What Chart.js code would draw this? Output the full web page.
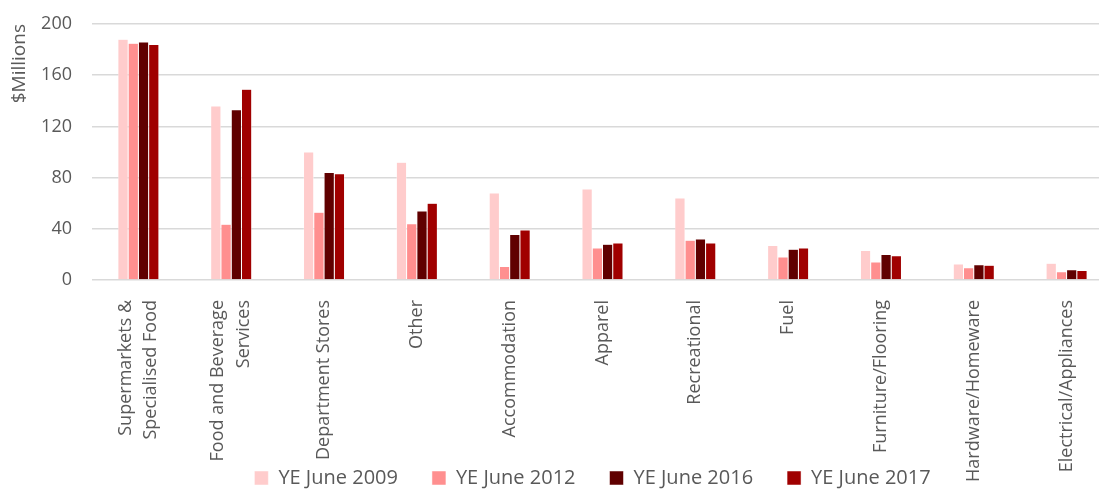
<!DOCTYPE html>
<html lang="en">
<head>
    <meta charset="UTF-8">
    <title>Retail spend by category</title>
    <script src="https://cdn.jsdelivr.net/npm/chart.js"></script>
    <style>
        html, body {
            margin: 0;
            padding: 0;
            overflow: hidden;
            background: #ffffff;
        }

        /* plot runs a little past the right edge of the window */
        .chart-box {
            width: 1113px;
            height: 490px;
        }
    </style>
</head>
<body>

    <div class="chart-box">
        <canvas id="spendChart"></canvas>
    </div>

    <script>
        // Categories (two-line labels as arrays)
        const categories = [
            ['Supermarkets &', 'Specialised Food'],
            ['Food and Beverage', 'Services'],
            'Department Stores',
            'Other',
            'Accommodation',
            'Apparel',
            'Recreational',
            'Fuel',
            'Furniture/Flooring',
            'Hardware/Homeware',
            'Electrical/Appliances'
        ];

        // $ millions, years ending June
        const ye2009 = [188, 136, 100, 92, 68, 71, 64, 27, 23, 12.5, 13];
        const ye2012 = [185, 43.5, 53, 44, 10.5, 25, 31, 18, 14, 9.5, 6.5];
        const ye2016 = [186, 133, 84, 54, 35.5, 28, 32, 24, 20, 12, 8];
        const ye2017 = [184, 149, 83, 60, 39, 29, 29, 25, 19, 11.5, 7.5];

        const yTicks = [0, 40, 80, 120, 160, 200];

        const textColor = '#595959';
        const fontFamily = "'Open Sans', sans-serif";

        // Category axis: multi-line labels centred on their tick, and long
        // labels allowed to run down beside the legend instead of being clipped
        class CentredCategoryScale extends Chart.CategoryScale {
            _computeLabelArea() {
                return undefined;
            }

            _computeLabelItems(chartArea) {
                const items = super._computeLabelItems(chartArea);
                items.forEach(item => {
                    if (Array.isArray(item.label)) {
                        item.textOffset -= (item.label.length - 1) * item.font.lineHeight / 2;
                    }
                });
                return items;
            }
        }
        CentredCategoryScale.id = 'centredCategory';
        CentredCategoryScale.defaults = Chart.CategoryScale.defaults;
        Chart.register(CentredCategoryScale);

        // Legend sits centred on the full chart width, which is wider than the canvas
        const legendShift = {
            id: 'legendShift',
            afterLayout(chart) {
                chart.legend.left += 36;
                chart.legend.right += 36;
            }
        };

        const makeSet = (label, data, color) => ({
            label: label,
            data: data,
            backgroundColor: color,
            borderColor: '#ffffff',
            borderWidth: 0.5,
            categoryPercentage: 0.442,
            barPercentage: 1
        });

        new Chart(document.getElementById('spendChart'), {
            type: 'bar',
            data: {
                labels: categories,
                datasets: [
                    makeSet('YE June 2009', ye2009, '#ffcccc'),
                    makeSet('YE June 2012', ye2012, '#ff8f8f'),
                    makeSet('YE June 2016', ye2016, '#600000'),
                    makeSet('YE June 2017', ye2017, '#a00000')
                ]
            },
            plugins: [legendShift],
            options: {
                responsive: true,
                maintainAspectRatio: false,
                animation: false,
                layout: {
                    padding: { top: 24, right: 0, left: 0, bottom: -8 }
                },
                plugins: {
                    legend: {
                        position: 'bottom',
                        labels: {
                            color: textColor,
                            font: { family: fontFamily, size: 20 },
                            boxWidth: 14,
                            boxHeight: 14,
                            padding: 34
                        }
                    },
                    tooltip: { enabled: false }
                },
                scales: {
                    x: {
                        type: 'centredCategory',
                        grid: { display: false },
                        border: { display: false },
                        ticks: {
                            color: textColor,
                            font: { family: fontFamily, size: 18, lineHeight: 1.44 },
                            maxRotation: 90,
                            minRotation: 90,
                            padding: 12,
                            autoSkip: false
                        },
                        afterFit: (scale) => { scale.height = 154; }
                    },
                    y: {
                        min: 0,
                        max: 200,
                        afterBuildTicks: (scale) => {
                            scale.ticks = yTicks.map(v => ({ value: v }));
                        },
                        grid: {
                            color: '#d9d9d9',
                            lineWidth: 1.5,
                            // invisible tick marks keep the labels clear of the plot
                            tickLength: 20,
                            tickColor: 'rgba(0, 0, 0, 0)'
                        },
                        border: { display: false },
                        ticks: {
                            color: textColor,
                            font: { family: fontFamily, size: 18 },
                            padding: 0
                        },
                        title: {
                            display: true,
                            text: '$Millions',
                            align: 'end',
                            color: textColor,
                            font: { family: fontFamily, size: 19 },
                            padding: { top: 8, bottom: 0 }
                        },
                        afterFit: (scale) => { scale.width = 92; }
                    }
                }
            }
        });
    </script>
</body>
</html>
